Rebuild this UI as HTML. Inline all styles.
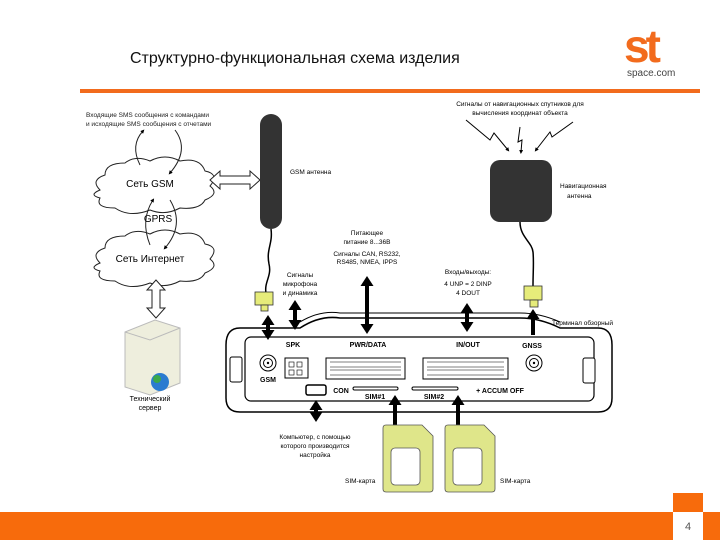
<!DOCTYPE html>
<html><head><meta charset="utf-8"><style>
body{margin:0;width:720px;height:540px;overflow:hidden;background:#fff;font-family:"Liberation Sans",sans-serif}
</style></head><body>
<svg width="720" height="540" viewBox="0 0 720 540" xmlns="http://www.w3.org/2000/svg" font-family="Liberation Sans, sans-serif">
<defs>
<marker id="ah" markerWidth="4" markerHeight="4" refX="2" refY="2" orient="auto" markerUnits="strokeWidth"><path d="M0,0 L4,2 L0,4z" fill="#000"/></marker>
<marker id="ta" markerWidth="10" markerHeight="13" refX="6" refY="6.5" orient="auto-start-reverse" markerUnits="userSpaceOnUse"><path d="M0,0 L10,6.5 L0,13z" fill="#000"/></marker>
</defs>
<text x="130" y="63" font-size="16" fill="#111">Структурно-функциональная схема изделия</text>
<text x="624" y="62" font-size="46" font-weight="bold" fill="#f26b1d" letter-spacing="-4">st</text>
<text x="627" y="76" font-size="10" fill="#444">space.com</text>
<rect x="80" y="89" width="620" height="4" fill="#f26b1d"/>
<text x="86" y="117" font-size="6.5" fill="#222">Входящие SMS сообщения с командами</text>
<text x="86" y="126" font-size="6.5" fill="#222">и исходящие SMS сообщения с отчетами</text>
<g fill="#fff" stroke="#222" stroke-width="1">
<path d="M100,190 q-10,-10 5,-15 q0,-12 20,-12 q10,-8 25,-2 q15,-8 30,0 q20,-4 25,10 q15,3 5,15 q10,8 -5,14 q-5,10 -25,8 q-15,8 -30,2 q-20,8 -35,-2 q-20,0 -15,-10 q-12,-3 0,-8z"/>
<path d="M100,263 q-10,-10 5,-15 q0,-12 20,-12 q10,-8 25,-2 q15,-8 30,0 q20,-4 25,10 q15,3 5,15 q10,8 -5,14 q-5,10 -25,8 q-15,8 -30,2 q-20,8 -35,-2 q-20,0 -15,-10 q-12,-3 0,-8z"/>
</g>
<text x="150" y="187" font-size="10" text-anchor="middle">Сеть GSM</text>
<text x="150" y="262" font-size="10" text-anchor="middle">Сеть Интернет</text>
<text x="158" y="222" font-size="10" text-anchor="middle">GPRS</text>
<g fill="none" stroke="#222" stroke-width="1" marker-end="url(#ah)">
<path d="M140,165 q-10,-20 3,-34"/>
<path d="M175,130 q15,20 -5,43"/>
<path d="M150,245 q-10,-25 3,-45"/>
<path d="M170,200 q15,25 -5,48"/>
</g>
<path d="M210,180 l10,-9 v5 h30 v-5 l10,9 l-10,9 v-5 h-30 v5z" fill="#fff" stroke="#222"/>
<path d="M156,280 l-9,10 h5 v18 h-5 l9,10 l9,-10 h-5 v-18 h5z" fill="#fff" stroke="#222"/>
<path d="M125,332 l30,-12 l25,8 v55 l-30,12 l-25,-8z" fill="#eeeedd" stroke="#bbb"/>
<path d="M125,332 l25,8 l30,-12" fill="none" stroke="#bbb"/>
<circle cx="160" cy="382" r="9" fill="#2a7bd0"/><circle cx="157" cy="379" r="4" fill="#3aa84a"/>
<text x="150" y="401" font-size="7" text-anchor="middle">Технический</text>
<text x="150" y="410" font-size="7" text-anchor="middle">сервер</text>
<rect x="260" y="114" width="22" height="115" rx="11" fill="#333"/>
<path d="M271,229 c2,15 -5,20 -2,35 c3,12 -5,18 -3,29" fill="none" stroke="#000" stroke-width="1.5"/>
<text x="290" y="174" font-size="6.5">GSM антенна</text>
<rect x="490" y="160" width="62" height="62" rx="10" fill="#333"/>
<path d="M520,222 c0,15 12,20 13,30 c1,10 0,20 0,34" fill="none" stroke="#000" stroke-width="1.5"/>
<text x="560" y="188" font-size="6.5">Навигационная</text>
<text x="567" y="198" font-size="6.5">антенна</text>
<text x="520" y="106" font-size="6.5" text-anchor="middle">Сигналы от навигационных спутников для</text>
<text x="520" y="115" font-size="6.5" text-anchor="middle">вычисления координат объекта</text>
<g fill="none" stroke="#000" stroke-width="1" marker-end="url(#ah)">
<polyline points="466,120 490,140 494,133 508,150"/>
<polyline points="520,127 518,142 522,140 521,152"/>
<polyline points="573,122 552,137 550,132 536,150"/>
</g>
<text x="367" y="235" font-size="6.5" text-anchor="middle">Питающее</text>
<text x="367" y="244" font-size="6.5" text-anchor="middle">питание 8...36В</text>
<text x="367" y="256" font-size="6.5" text-anchor="middle">Сигналы CAN, RS232,</text>
<text x="367" y="264" font-size="6.5" text-anchor="middle">RS485, NMEA, IPPS</text>
<text x="300" y="277" font-size="6.5" text-anchor="middle">Сигналы</text>
<text x="300" y="286" font-size="6.5" text-anchor="middle">микрофона</text>
<text x="300" y="295" font-size="6.5" text-anchor="middle">и динамика</text>
<text x="468" y="274" font-size="6.5" text-anchor="middle">Входы/выходы:</text>
<text x="468" y="286" font-size="6.5" text-anchor="middle">4 UNP = 2 DINP</text>
<text x="468" y="295" font-size="6.5" text-anchor="middle">4 DOUT</text>
<text x="552" y="325" font-size="6.5">Терминал обзорный</text>
<rect x="255" y="292" width="18" height="13" fill="#e6ec7a" stroke="#333" stroke-width=".8"/>
<rect x="261" y="305" width="7" height="6" fill="#e6ec7a" stroke="#333" stroke-width=".8"/>
<rect x="524" y="286" width="18" height="14" fill="#e6ec7a" stroke="#333" stroke-width=".8"/>
<rect x="530" y="300" width="8" height="7" fill="#e6ec7a" stroke="#333" stroke-width=".8"/>
<path d="M240,328 L300,328 Q320,315 340,318 L520,318 Q540,318 560,328 L598,328 Q612,328 612,345 L612,398 Q612,412 598,412 L240,412 Q226,412 226,398 L226,345 Q226,328 240,328z" fill="#fff" stroke="#000" stroke-width="1.5"/>
<path d="M300,322 Q320,310 340,313 L520,313 Q540,313 560,322" fill="none" stroke="#000" stroke-width="1"/>
<rect x="245" y="337" width="349" height="64" rx="6" fill="none" stroke="#000" stroke-width="1.2"/>
<rect x="230" y="357" width="12" height="25" rx="2" fill="#fff" stroke="#000"/>
<rect x="583" y="358" width="12" height="25" rx="2" fill="#fff" stroke="#000"/>
<circle cx="268" cy="363" r="8" fill="#fff" stroke="#000"/><circle cx="268" cy="363" r="4.5" fill="none" stroke="#000"/><circle cx="268" cy="363" r="1.2"/>
<circle cx="534" cy="363" r="8" fill="#fff" stroke="#000"/><circle cx="534" cy="363" r="4.5" fill="none" stroke="#000"/><circle cx="534" cy="363" r="1.2"/>
<g font-size="7" font-weight="bold" text-anchor="middle">
<text x="268" y="382">GSM</text><text x="293" y="347">SPK</text><text x="368" y="347">PWR/DATA</text><text x="468" y="347">IN/OUT</text><text x="532" y="348">GNSS</text>
<text x="341" y="393">CON</text><text x="375" y="399">SIM#1</text><text x="434" y="399">SIM#2</text>
<text x="500" y="393">+ ACCUM OFF</text></g>
<rect x="285" y="358" width="23" height="20" fill="#fff" stroke="#000"/>
<rect x="326" y="358" width="79" height="21" fill="#fff" stroke="#000"/>
<rect x="423" y="358" width="85" height="21" fill="#fff" stroke="#000"/>
<g fill="none" stroke="#000" stroke-width=".6">
<rect x="289" y="362" width="5" height="5"/><rect x="297" y="362" width="5" height="5"/><rect x="289" y="370" width="5" height="5"/><rect x="297" y="370" width="5" height="5"/>
<path d="M330,362 h71 M330,367 h71 M330,370 h71 M330,375 h71"/>
<path d="M427,362 h77 M427,367 h77 M427,370 h77 M427,375 h77"/>
</g>
<rect x="306" y="385" width="20" height="10" rx="2" fill="#fff" stroke="#000" stroke-width="1.5"/>
<rect x="353" y="387" width="45" height="3" rx="1.5" fill="#fff" stroke="#000"/>
<rect x="412" y="387" width="46" height="3" rx="1.5" fill="#fff" stroke="#000"/>
<g stroke="#000" stroke-width="4" fill="none">
<line x1="268" y1="319" x2="268" y2="336" marker-start="url(#ta)" marker-end="url(#ta)"/>
<line x1="295" y1="304" x2="295" y2="326" marker-start="url(#ta)" marker-end="url(#ta)"/>
<line x1="367" y1="280" x2="367" y2="330" marker-start="url(#ta)" marker-end="url(#ta)"/>
<line x1="467" y1="307" x2="467" y2="328" marker-start="url(#ta)" marker-end="url(#ta)"/>
<line x1="533" y1="335" x2="533" y2="313" marker-end="url(#ta)"/>
<line x1="316" y1="404" x2="316" y2="418" marker-start="url(#ta)" marker-end="url(#ta)"/>
<line x1="395" y1="425" x2="395" y2="399" marker-end="url(#ta)"/>
<line x1="458" y1="425" x2="458" y2="399" marker-end="url(#ta)"/>
</g>
<text x="315" y="439" font-size="6.5" text-anchor="middle">Компьютер, с помощью</text>
<text x="315" y="448" font-size="6.5" text-anchor="middle">которого производится</text>
<text x="315" y="457" font-size="6.5" text-anchor="middle">настройка</text>
<g fill="#dfe68a" stroke="#555" stroke-width=".8">
<path d="M386,425 h36 l11,11 v53 q0,3 -3,3 h-44 q-3,0 -3,-3 v-61 q0,-3 3,-3z"/>
<path d="M448,425 h36 l11,11 v53 q0,3 -3,3 h-44 q-3,0 -3,-3 v-61 q0,-3 3,-3z"/>
</g>
<g fill="#fff" stroke="#555" stroke-width=".8">
<rect x="391" y="448" width="29" height="37" rx="4"/><rect x="453" y="448" width="29" height="37" rx="4"/>
</g>
<text x="345" y="483" font-size="6.5">SIM-карта</text>
<text x="500" y="483" font-size="6.5">SIM-карта</text>
<rect x="0" y="512" width="720" height="28" fill="#f76b0c"/>
<rect x="673" y="493" width="30" height="19" fill="#f76b0c"/>
<rect x="673" y="512" width="30" height="28" fill="#fff"/>
<text x="688" y="530" font-size="11" fill="#555" text-anchor="middle">4</text>
</svg>
</body></html>
